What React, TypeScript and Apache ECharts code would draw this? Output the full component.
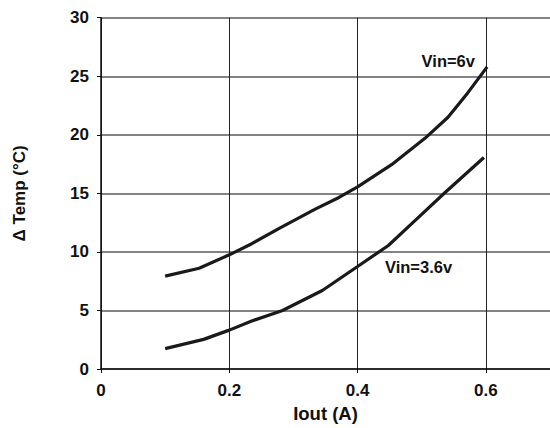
import React, { useEffect, useRef } from "react";
import * as echarts from "echarts";

const iout6 = [0.1, 0.153, 0.2, 0.235, 0.28, 0.334, 0.371, 0.4, 0.453, 0.505, 0.541, 0.572, 0.602];
const temp6 = [7.93, 8.6, 9.75, 10.7, 12.08, 13.65, 14.65, 15.55, 17.45, 19.7, 21.5, 23.6, 25.8];

const iout36 = [0.1, 0.16, 0.2, 0.235, 0.283, 0.345, 0.4, 0.448, 0.492, 0.536, 0.597];
const temp36 = [1.74, 2.53, 3.32, 4.1, 5.0, 6.7, 8.75, 10.55, 12.8, 15.05, 18.06];

const label6 = "Vin=6v";
const label36 = "Vin=3.6v";
const label6Pos = [0.583, 26.3];
const label36Pos = [0.495, 8.72];

const xTitle = "Iout (A)";
const yTitle = "\u0394 Temp (\u00B0C)";

const FONT = "'Liberation Sans', Arial, Helvetica, sans-serif";
const INK = "#111111";

function pairs(xs: number[], ys: number[]) {
  return xs.map((x, i) => [x, ys[i]]);
}

export default function App() {
  const ref = useRef<HTMLDivElement>(null);
  useEffect(() => {
    if (!ref.current) return;
    const chart = echarts.init(ref.current, undefined, { renderer: "svg" });
    const textStyle = { fontFamily: FONT, fontWeight: "bold", fontSize: 17, color: INK };
    chart.setOption({
      animation: false,
      backgroundColor: "#ffffff",
      grid: { left: 101, right: -2, top: 17.7, bottom: 54.7, containLabel: false },
      xAxis: {
        type: "value",
        min: 0,
        max: 0.7,
        interval: 0.2,
        name: xTitle,
        nameLocation: "middle",
        nameGap: 35,
        nameTextStyle: { ...textStyle, fontSize: 18.5 },
        axisLine: { show: true, onZero: false, lineStyle: { color: INK, width: 1.5 } },
        axisTick: { show: true, length: 4, lineStyle: { color: INK, width: 1 } },
        axisLabel: {
          ...textStyle,
          margin: 13,
          showMaxLabel: false,
          formatter: (v: number) => (v > 0.65 ? "" : String(Math.round(v * 10) / 10)),
        },
        splitLine: { show: true, lineStyle: { color: "#222222", width: 1 } },
      },
      yAxis: {
        type: "value",
        min: 0,
        max: 30,
        interval: 5,
        name: yTitle,
        nameLocation: "middle",
        nameGap: 73,
        nameTextStyle: { ...textStyle, fontSize: 17 },
        axisLine: { show: true, onZero: false, lineStyle: { color: INK, width: 1.5 } },
        axisTick: { show: true, length: 4, lineStyle: { color: INK, width: 1 } },
        axisLabel: { ...textStyle, margin: 12 },
        splitLine: { show: true, lineStyle: { color: "#5a5a5a", width: 1.5 } },
      },
      series: [
        {
          type: "line",
          name: label6,
          data: pairs(iout6, temp6),
          showSymbol: false,
          smooth: false,
          lineStyle: { color: "#1a1a1a", width: 3.2 },
          markPoint: {
            symbolSize: 0,
            silent: true,
            data: [
              {
                coord: label6Pos,
                label: { show: true, formatter: label6, ...textStyle, fontSize: 16.5, align: "right", verticalAlign: "middle" },
              },
            ],
          },
        },
        {
          type: "line",
          name: label36,
          data: pairs(iout36, temp36),
          showSymbol: false,
          smooth: false,
          lineStyle: { color: "#1a1a1a", width: 3.2 },
          markPoint: {
            symbolSize: 0,
            silent: true,
            data: [
              {
                coord: label36Pos,
                label: { show: true, formatter: label36, ...textStyle, fontSize: 16.5, align: "center", verticalAlign: "middle" },
              },
            ],
          },
        },
      ],
    });
    return () => chart.dispose();
  }, []);
  return (
    <div
      ref={ref}
      style={{ position: "absolute", left: 0, top: 0, width: 550, height: 428, background: "#fff" }}
    />
  );
}
